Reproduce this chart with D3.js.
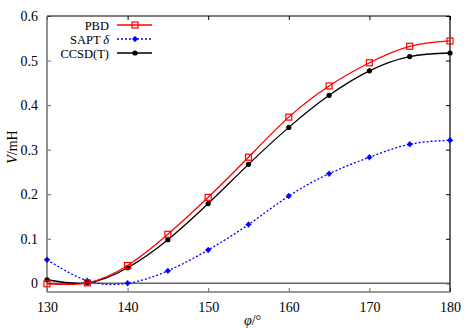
<!DOCTYPE html>
<html>
<head>
<meta charset="utf-8">
<script src="https://cdn.jsdelivr.net/npm/d3@7"></script>
<style>
  body { margin: 0; background: #fff; }
</style>
</head>
<body>
<script>
var svgWidth = 469;
var svgHeight = 328;
var serif = "'Liberation Serif', 'Times New Roman', 'DejaVu Serif', serif";

var margin = { top: 16, right: 19, bottom: 36, left: 47 };
var width = svgWidth - margin.left - margin.right;
var height = svgHeight - margin.top - margin.bottom;

// data
var angles = [130, 135, 140, 145, 150, 155, 160, 165, 170, 175, 180];
var pbd = [-0.001, 0.001, 0.040, 0.110, 0.193, 0.283, 0.373, 0.443, 0.495, 0.532, 0.544];
var sapt = [0.053, 0.006, 0.000, 0.028, 0.075, 0.132, 0.196, 0.246, 0.283, 0.312, 0.321];
var ccsd = [0.008, 0.001, 0.035, 0.098, 0.179, 0.267, 0.350, 0.422, 0.477, 0.509, 0.517];
var xTicks = [130, 140, 150, 160, 170, 180];
var yTicks = [0, 0.1, 0.2, 0.3, 0.4, 0.5, 0.6];

var svg = d3.select("body").append("svg")
  .attr("width", svgWidth)
  .attr("height", svgHeight)
  .style("font-family", serif);

var chartGroup = svg.append("g")
  .attr("transform", `translate(${margin.left}, ${margin.top})`);

var xScale = d3.scaleLinear().domain([130, 180]).range([0, width]);
var yScale = d3.scaleLinear().domain([-0.0195, 0.6]).range([height, 0]);

// inside ticks on all four sides
var bottomAxis = d3.axisBottom(xScale).tickValues(xTicks).tickSize(-4).tickPadding(10).tickFormat(d3.format("d"));
var topAxis = d3.axisTop(xScale).tickValues(xTicks).tickSize(-4).tickFormat("");
var leftAxis = d3.axisLeft(yScale).tickValues(yTicks).tickSize(-4).tickPadding(9)
  .tickFormat(d => d === 0 ? "0" : d3.format(".1f")(d));
var rightAxis = d3.axisRight(yScale).tickValues(yTicks).tickSize(-4).tickFormat("");

function styleAxis(g, col) {
  g.attr("font-family", serif);
  g.select(".domain").remove();
  g.selectAll(".tick line").attr("stroke", col).attr("stroke-width", 1);
  g.selectAll(".tick text").attr("font-size", 14).attr("fill", "#000").style("font-family", serif);
}

chartGroup.append("g").attr("transform", `translate(0, ${height})`).call(bottomAxis).call(styleAxis, "#666");
chartGroup.append("g").call(topAxis).call(styleAxis, "#000");
chartGroup.append("g").call(leftAxis).call(styleAxis, "#666");
chartGroup.append("g").attr("transform", `translate(${width}, 0)`).call(rightAxis).call(styleAxis, "#000");

// zero line
chartGroup.append("line")
  .attr("x1", 0).attr("x2", width)
  .attr("y1", yScale(0)).attr("y2", yScale(0))
  .attr("stroke", "#666").attr("stroke-width", 1.5);

// frame: gray left/bottom, black top/right
chartGroup.append("line").attr("x1", 0).attr("x2", width).attr("y1", 0).attr("y2", 0)
  .attr("stroke", "#000").attr("stroke-width", 1.2);
chartGroup.append("line").attr("x1", width).attr("x2", width).attr("y1", 0).attr("y2", height)
  .attr("stroke", "#000").attr("stroke-width", 1.2);
chartGroup.append("line").attr("x1", 0).attr("x2", 0).attr("y1", 0).attr("y2", height)
  .attr("stroke", "#777").attr("stroke-width", 1.6);
chartGroup.append("line").attr("x1", 0).attr("x2", width).attr("y1", height).attr("y2", height)
  .attr("stroke", "#777").attr("stroke-width", 1.6);

var line = d3.line()
  .x((d, i) => xScale(angles[i]))
  .y(d => yScale(d))
  .curve(d3.curveNatural);

var series = [
  { name: "SAPT", vals: sapt, color: "#0000ff", dash: "2,2", marker: "plus" },
  { name: "CCSD(T)", vals: ccsd, color: "#000000", dash: null, marker: "dot" },
  { name: "PBD", vals: pbd, color: "#ff0000", dash: null, marker: "square" }
];

function drawMarker(g, x, y, s) {
  if (s.marker === "square") {
    g.append("rect").attr("x", x - 3).attr("y", y - 3).attr("width", 6).attr("height", 6)
      .attr("fill", "none").attr("stroke", s.color).attr("stroke-width", 1.2);
  } else if (s.marker === "dot") {
    g.append("circle").attr("cx", x).attr("cy", y).attr("r", 2.6).attr("fill", s.color);
  } else {
    g.append("circle").attr("cx", x).attr("cy", y).attr("r", 2.2).attr("fill", s.color);
    g.append("path").attr("d", `M${x - 3},${y}H${x + 3}M${x},${y - 3}V${y + 3}`)
      .attr("stroke", s.color).attr("stroke-width", 1.2);
  }
}

series.forEach(function(s) {
  chartGroup.append("path")
    .datum(s.vals)
    .attr("d", line)
    .attr("fill", "none")
    .attr("stroke", s.color)
    .attr("stroke-width", 1.3)
    .attr("stroke-dasharray", s.dash);
  var mg = chartGroup.append("g");
  s.vals.forEach((v, i) => drawMarker(mg, xScale(angles[i]), yScale(v), s));
});

// legend
var legendRows = [series[2], series[0], series[1]];
var legend = svg.append("g");
legendRows.forEach(function(s, i) {
  var y = 25 + i * 14;
  var t = legend.append("text")
    .attr("x", 109).attr("y", y + 4.5)
    .attr("text-anchor", "end")
    .attr("font-size", 12.5)
    .style("font-family", serif);
  if (s.name === "SAPT") {
    t.append("tspan").text("SAPT\u2009");
    t.append("tspan").attr("font-style", "italic").text("\u03b4");
  } else {
    t.text(s.name);
  }
  legend.append("line")
    .attr("x1", 117).attr("x2", 152).attr("y1", y).attr("y2", y)
    .attr("stroke", s.color).attr("stroke-width", 1.3)
    .attr("stroke-dasharray", s.dash);
  drawMarker(legend, 135, y, s);
});

// axis labels
var xl = svg.append("text")
  .attr("x", margin.left + width / 2 + 4)
  .attr("y", svgHeight - 3)
  .attr("text-anchor", "middle")
  .attr("font-size", 14)
  .style("font-family", serif);
xl.append("tspan").attr("font-style", "italic").text("\u03c6");
xl.append("tspan").text("/\u00b0");

var yl = svg.append("text")
  .attr("transform", `translate(17, ${margin.top + height / 2 - 7}) rotate(-90)`)
  .attr("text-anchor", "middle")
  .attr("font-size", 14)
  .style("font-family", serif);
yl.append("tspan").attr("font-style", "italic").text("V");
yl.append("tspan").text("/mH");
</script>
</body>
</html>
